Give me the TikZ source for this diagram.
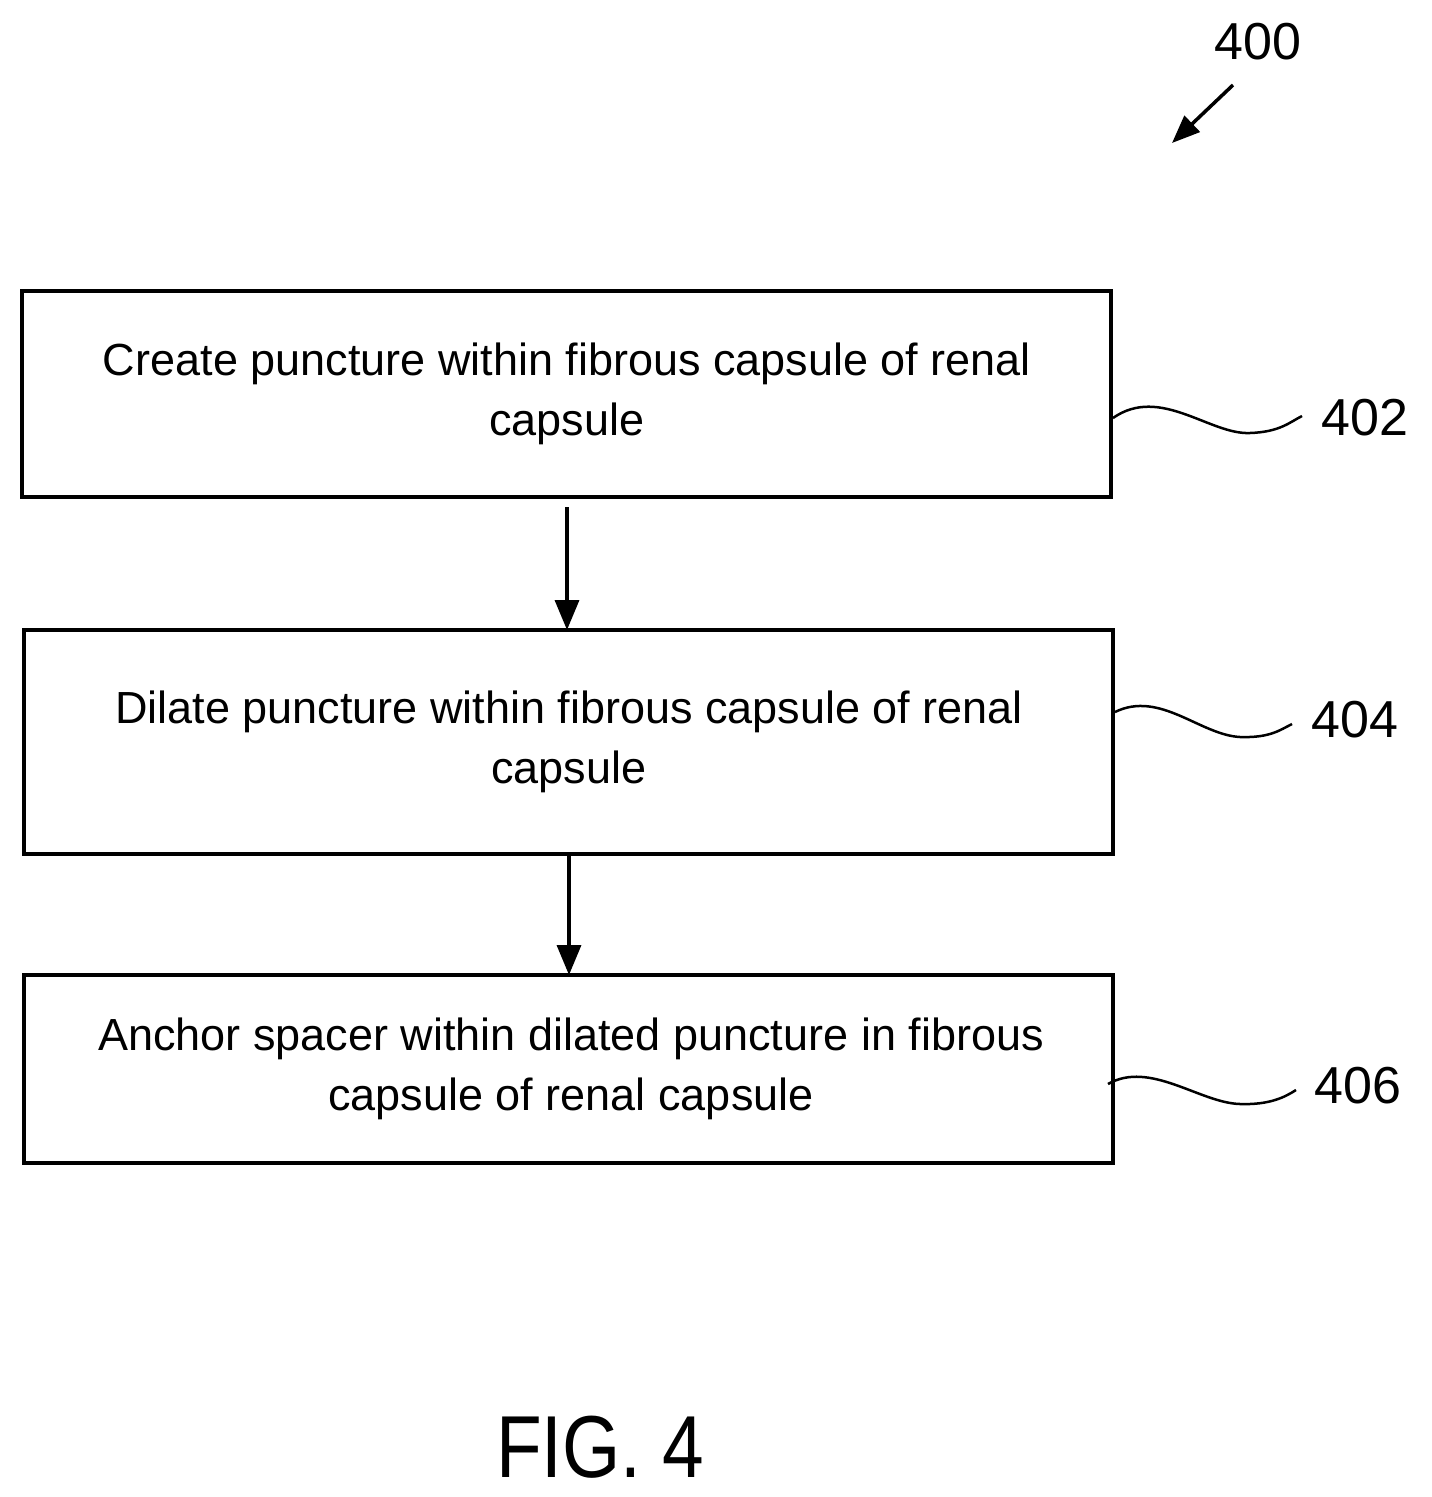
\documentclass[tikz,border=0pt]{standalone}
\usepackage{fontspec}
\setmainfont{Liberation Sans}
\usetikzlibrary{arrows.meta}
\begin{document}
\begin{tikzpicture}[x=1pt,y=-1pt,
  box/.style={draw,line width=3.5pt},
  txt/.style={align=center,font=\fontsize{45}{60}\selectfont},
  lbl/.style={font=\fontsize{52}{60}\selectfont},
  arr/.style={line width=3.5pt,-{Triangle[length=30pt,width=24pt]}},
  sq/.style={line width=2.5pt}]
\useasboundingbox (0,0) rectangle (1432,1497);
\draw[box] (22,291) rectangle (1111,497);
\draw[box] (24,630) rectangle (1113,854);
\draw[box] (24,975) rectangle (1113,1163);
\node[txt] (t1) at (567,394) {Create puncture within fibrous capsule of renal\\capsule};
\node[txt] (t2) at (569,742) {Dilate puncture within fibrous capsule of renal\\capsule};
\node[txt] (t3) at (571,1069) {Anchor spacer within dilated puncture in fibrous\\capsule of renal capsule};
\coordinate (a1) at (567,507); \coordinate (b1) at (567,630);
\coordinate (a2) at (569,854); \coordinate (b2) at (569,975);
\draw[arr] (a1) -- (b1);
\draw[arr] (a2) -- (b2);
\draw[sq] (1113,418) .. controls (1160,385) and (1210,435) .. (1250,433) .. controls (1280,432) and (1290,422) .. (1302,416);
\node[lbl] (l1) at (1365,418) {402};
\draw[sq] (1115,712) .. controls (1160,690) and (1200,735) .. (1240,737) .. controls (1270,738) and (1280,730) .. (1292,724);
\node[lbl] (l2) at (1355,720) {404};
\draw[sq] (1108,1084) .. controls (1150,1060) and (1200,1103) .. (1240,1104) .. controls (1270,1105) and (1285,1097) .. (1296,1090);
\node[lbl] (l3) at (1358,1086) {406};
\node[lbl] (l0) at (1258,42) {400};
\coordinate (p0) at (1233,85); \coordinate (q0) at (1172,143);
\draw[line width=3.5pt,-{Triangle[length=28pt,width=22pt]}] (p0) -- (q0);
\node[font=\fontsize{88}{100}\selectfont,xscale=0.85] (fig) at (600,1447) {FIG. 4};
\end{tikzpicture}
\end{document}
